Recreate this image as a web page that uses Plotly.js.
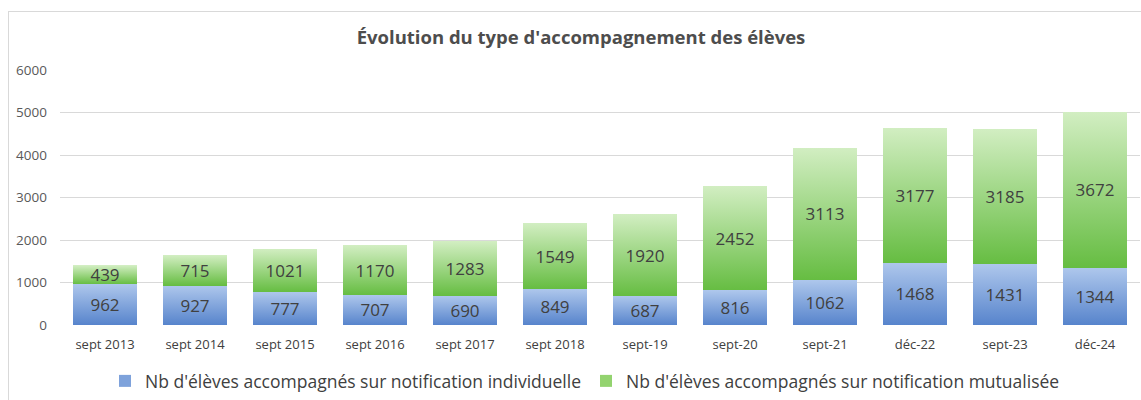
<!DOCTYPE html>
<html>
<head>
<meta charset="utf-8">
<script src="https://cdn.plot.ly/plotly-3.0.1.min.js"></script>
<style>
  html, body { margin: 0; padding: 0; background: #fff; }
  #wrap { position: relative; width: 1141px; height: 400px; overflow: hidden; }
  #frame { position: absolute; left: 8px; top: 11px; width: 1200px; height: 420px; border: 1px solid #d9d9d9; box-sizing: border-box; pointer-events: none; z-index: 2; }
  #chart { position: absolute; left: 0; top: 0; width: 1141px; height: 400px; }
</style>
</head>
<body>
<div id="wrap">
  <div id="chart"></div>
  <div id="frame"></div>
</div>
<script>
const categories = ["sept 2013", "sept 2014", "sept 2015", "sept 2016", "sept 2017", "sept 2018", "sept-19", "sept-20", "sept-21", "déc-22", "sept-23", "déc-24"];
const individuelle = [962, 927, 777, 707, 690, 849, 687, 816, 1062, 1468, 1431, 1344];
const mutualisee = [439, 715, 1021, 1170, 1283, 1549, 1920, 2452, 3113, 3177, 3185, 3672];
const seriesNames = ["Nb d'élèves accompagnés sur notification individuelle", "Nb d'élèves accompagnés sur notification mutualisée"];
const yTicks = [0, 1000, 2000, 3000, 4000, 5000, 6000];

const FONT = "Open Sans, sans-serif";
const common = {
  type: "bar",
  x: categories,
  texttemplate: "%{y}",
  textposition: "inside",
  insidetextanchor: "middle",
  constraintext: "none",
  textangle: 0,
  textfont: { family: FONT, size: 17, color: "#404040" },
  hoverinfo: "skip"
};
const traces = [
  Object.assign({}, common, { y: individuelle, name: seriesNames[0], marker: { color: "#7ea2db", line: { width: 0 } } }),
  Object.assign({}, common, { y: mutualisee, name: seriesNames[1], marker: { color: "#93d36f", line: { width: 0 } } })
];

const layout = {
  width: 1141, height: 400,
  margin: { l: 60, r: 1, t: 70, b: 75 },
  paper_bgcolor: "rgba(0,0,0,0)",
  plot_bgcolor: "rgba(0,0,0,0)",
  barmode: "stack",
  bargap: 0.28,
  showlegend: true,
  title: {
    text: "Évolution du type d'accompagnement des élèves",
    font: { family: FONT, size: 18.5, color: "#4d4d4d", weight: "bold" },
    x: 581 / 1141, xref: "container", xanchor: "center",
    y: 1 - 38 / 400, yref: "container", yanchor: "middle"
  },
  xaxis: {
    type: "category",
    tickfont: { family: FONT, size: 13, color: "#404040" },
    showgrid: false, zeroline: false, showline: false,
    ticks: "", ticklen: 0, ticklabelstandoff: 10
  },
  yaxis: {
    range: [0, 6000],
    tickvals: yTicks,
    ticktext: yTicks.map(String),
    tickfont: { family: FONT, size: 13.5, color: "#595959" },
    gridcolor: "#d9d9d9", gridwidth: 1,
    zeroline: false, showline: false,
    ticks: "", ticklabelstandoff: 12
  },
  legend: {
    orientation: "h",
    x: 585 / 1141, xref: "container", xanchor: "center",
    y: 1 - 381 / 400, yref: "container", yanchor: "middle",
    font: { family: FONT, size: 17.5, color: "#404040" },
    itemwidth: 30,
    traceorder: "normal"
  }
};

Plotly.newPlot("chart", traces, layout, { staticPlot: true, displayModeBar: false }).then(function (gd) {
  const svg = gd.querySelector("svg.main-svg");
  const ns = "http://www.w3.org/2000/svg";
  let defs = svg.querySelector("defs");
  if (!defs) { defs = document.createElementNS(ns, "defs"); svg.insertBefore(defs, svg.firstChild); }
  function grad(id, top, bottom) {
    const g = document.createElementNS(ns, "linearGradient");
    g.setAttribute("id", id);
    g.setAttribute("x1", "0"); g.setAttribute("y1", "0");
    g.setAttribute("x2", "0"); g.setAttribute("y2", "1");
    [[0, top], [1, bottom]].forEach(function (s) {
      const st = document.createElementNS(ns, "stop");
      st.setAttribute("offset", s[0]);
      st.setAttribute("stop-color", s[1]);
      g.appendChild(st);
    });
    defs.appendChild(g);
  }
  grad("gBlue", "#aec7ec", "#5784cc");
  grad("gGreen", "#d2eec2", "#66bd42");
  const ids = ["gBlue", "gGreen"];
  gd.querySelectorAll("g.barlayer g.trace").forEach(function (t, i) {
    t.querySelectorAll("g.point path").forEach(function (p) {
      p.style.fill = "url(#" + ids[i] + ")";
    });
  });
});
</script>
</body>
</html>
